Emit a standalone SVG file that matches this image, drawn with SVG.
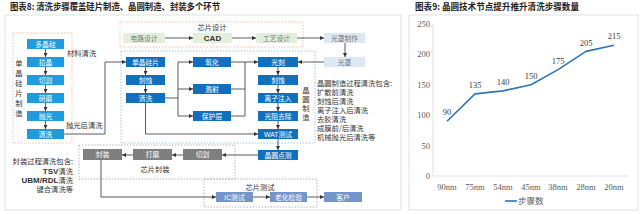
<svg xmlns="http://www.w3.org/2000/svg" width="640" height="214" viewBox="0 0 640 214">
<defs>
<marker id="ah" viewBox="0 0 6 6" refX="6" refY="3" markerWidth="4" markerHeight="4" markerUnits="userSpaceOnUse" orient="auto"><path d="M0,0 L6,3 L0,6 z" fill="#333"/></marker>
<style>
.title{font-family:"Noto Sans CJK SC","Noto Sans",sans-serif;font-size:8.6px;font-weight:bold;fill:#222}
.bt{font-family:"Noto Sans CJK SC",sans-serif;font-size:6.8px;fill:#fff;text-anchor:middle}
.lt{font-family:"Noto Sans CJK SC",sans-serif;font-size:6.8px;fill:#777;text-anchor:middle}
.ann{font-family:"Noto Sans CJK SC",sans-serif;font-size:7.3px;fill:#333}
.si{fill:#1F9CDD}
.wf{fill:#1170BE}
.gr{fill:#7F7F7F}
.ts{fill:#7395CA}
.gn{fill:#E2EFDA}
.lb{fill:#DDE8F4}
.c{stroke:#333;stroke-width:0.8;fill:none}
.ca{stroke:#333;stroke-width:0.8;fill:none;marker-end:url(#ah)}
.dor{fill:none;stroke:#F4B183;stroke-width:0.8;stroke-dasharray:1.5 1.5}
.dbl{fill:none;stroke:#8DB8E2;stroke-width:0.8;stroke-dasharray:1.5 1.5}
.dgy{fill:none;stroke:#A6A6A6;stroke-width:0.8;stroke-dasharray:1.5 1.5}
.ax{font-family:"Liberation Serif",serif;font-size:8.5px;fill:#595959}
.dl{font-family:"Liberation Serif",serif;font-size:8.5px;fill:#404040;text-anchor:middle}
</style>
</defs>
<rect width="640" height="214" fill="#fff"/>
<!-- panels -->
<rect x="5" y="15" width="396" height="195" fill="none" stroke="#D9D9D9" stroke-width="0.8"/>
<rect x="409" y="15" width="229" height="195" fill="none" stroke="#D9D9D9" stroke-width="0.8"/>
<text class="title" x="10" y="10" textLength="210" lengthAdjust="spacingAndGlyphs">图表8: 清洗步骤覆盖硅片制造、晶圆制造、封装多个环节</text>
<text class="title" x="415" y="10" textLength="164" lengthAdjust="spacingAndGlyphs">图表9: 晶圆技术节点提升推升清洗步骤数量</text>

<!-- group frames -->
<g id="frame-si"><rect class="dor" x="13" y="33" width="59" height="110"/>
<text class="ann" x="19" text-anchor="middle"><tspan x="19" y="66">单</tspan><tspan x="19" y="76">晶</tspan><tspan x="19" y="86">硅</tspan><tspan x="19" y="96">片</tspan><tspan x="19" y="106">制</tspan><tspan x="19" y="116">造</tspan></text></g>
<g id="frame-design"><rect class="dor" x="120" y="22" width="183" height="25"/><text class="ann" x="212" y="30" text-anchor="middle">芯片设计</text></g>
<g id="frame-wafer"><rect class="dbl" x="121" y="51" width="194" height="92"/>
<text class="ann" text-anchor="middle"><tspan x="306" y="93">晶</tspan><tspan x="306" y="102">圆</tspan><tspan x="306" y="111">制</tspan><tspan x="306" y="120">造</tspan></text></g>
<g id="frame-pack"><rect class="dgy" x="79" y="145" width="156" height="34"/><text class="ann" x="155" y="172" text-anchor="middle">芯片封装</text></g>
<g id="frame-test"><rect class="dgy" x="204" y="179" width="113" height="28"/><text class="ann" x="260" y="190" text-anchor="middle">芯片测试</text></g>

<!-- annotations -->
<g id="notes">
<text class="ann" x="67" y="56">材料清洗</text>
<text class="ann" x="66" y="128">抛光后清洗</text>
<text class="ann" x="317" y="86">晶圆制造过程清洗包含:</text>
<text class="ann" x="317" y="95">扩散前清洗</text>
<text class="ann" x="317" y="104">刻蚀后清洗</text>
<text class="ann" x="317" y="113">离子注入后清洗</text>
<text class="ann" x="317" y="122">去胶清洗</text>
<text class="ann" x="317" y="131">成膜前/后清洗</text>
<text class="ann" x="317" y="140">机械抛光后清洗等</text>
<text class="ann" x="73" y="164" text-anchor="end">封装过程清洗包含:</text>
<text class="ann" x="73" y="174" text-anchor="end"><tspan font-family="Liberation Sans" font-weight="bold" font-size="8">TSV</tspan>清洗</text>
<text class="ann" x="73" y="183" text-anchor="end"><tspan font-family="Liberation Sans" font-weight="bold" font-size="8">UBM/RDL</tspan>清洗</text>
<text class="ann" x="73" y="192" text-anchor="end">键合清洗等</text>
</g>

<!-- connectors -->
<g id="connectors">
<line class="ca" x1="45.5" y1="49" x2="45.5" y2="57"/>
<line class="ca" x1="45.5" y1="67" x2="45.5" y2="75"/>
<line class="ca" x1="45.5" y1="85" x2="45.5" y2="93"/>
<line class="ca" x1="45.5" y1="103" x2="45.5" y2="111"/>
<line class="ca" x1="45.5" y1="121" x2="45.5" y2="129"/>
<polyline class="ca" points="64,134 105,134 105,62 126,62"/>
<line class="ca" x1="145.5" y1="67" x2="145.5" y2="75"/>
<line class="ca" x1="145.5" y1="85" x2="145.5" y2="93"/>
<polyline class="c" points="165,98 178,98"/>
<line class="c" x1="178" y1="62" x2="178" y2="116"/>
<line class="ca" x1="178" y1="62" x2="193" y2="62"/>
<line class="ca" x1="178" y1="89" x2="193" y2="89"/>
<line class="ca" x1="178" y1="116" x2="193" y2="116"/>
<line class="c" x1="231" y1="62" x2="245" y2="62"/>
<line class="c" x1="231" y1="89" x2="245" y2="89"/>
<line class="c" x1="231" y1="116" x2="245" y2="116"/>
<line class="c" x1="245" y1="62" x2="245" y2="116"/>
<line class="ca" x1="245" y1="62" x2="258" y2="62"/>
<polyline class="ca" points="145.5,103 145.5,134 258,134"/>
<line class="ca" x1="278" y1="67" x2="278" y2="75"/>
<line class="ca" x1="278" y1="85" x2="278" y2="93"/>
<line class="ca" x1="278" y1="103" x2="278" y2="111"/>
<line class="ca" x1="278" y1="121" x2="278" y2="129"/>
<line class="ca" x1="278" y1="139" x2="278" y2="150"/>
<line class="ca" x1="258" y1="155" x2="222" y2="155"/>
<line class="ca" x1="183" y1="155" x2="172" y2="155"/>
<line class="ca" x1="133" y1="155" x2="122" y2="155"/>
<polyline class="ca" points="101,160 101,197 216,197"/>
<line class="ca" x1="253" y1="197" x2="270" y2="197"/>
<line class="ca" x1="307" y1="197" x2="324" y2="197"/>
<line class="ca" x1="165" y1="38" x2="193" y2="38"/>
<line class="ca" x1="232" y1="38" x2="256" y2="38"/>
<line class="ca" x1="297" y1="38" x2="324" y2="38"/>
<line class="ca" x1="345" y1="43" x2="345" y2="57"/>
<line class="ca" x1="324" y1="62" x2="298" y2="62"/>
</g>

<!-- silicon nodes -->
<g id="n-duojinggui"><rect class="si" x="27" y="39" width="37" height="10"/><text class="bt" x="45.5" y="46.6">多晶硅</text></g>
<g id="n-lajing"><rect class="si" x="27" y="57" width="37" height="10"/><text class="bt" x="45.5" y="64.6">拉晶</text></g>
<g id="n-qiege1"><rect class="si" x="27" y="75" width="37" height="10"/><text class="bt" x="45.5" y="82.6">切割</text></g>
<g id="n-yanmo"><rect class="si" x="27" y="93" width="37" height="10"/><text class="bt" x="45.5" y="100.6">研磨</text></g>
<g id="n-paoguang"><rect class="si" x="27" y="111" width="37" height="10"/><text class="bt" x="45.5" y="118.6">抛光</text></g>
<g id="n-qingxi1"><rect class="si" x="27" y="129" width="37" height="10"/><text class="bt" x="45.5" y="136.6">清洗</text></g>

<!-- wafer nodes -->
<g id="n-danjing"><rect class="wf" x="126" y="57" width="39" height="10"/><text class="bt" x="145.5" y="64.6">单晶硅片</text></g>
<g id="n-keshi1"><rect class="wf" x="126" y="75" width="39" height="10"/><text class="bt" x="145.5" y="82.6">刻蚀</text></g>
<g id="n-qingxi2"><rect class="wf" x="126" y="93" width="39" height="10"/><text class="bt" x="145.5" y="100.6">清洗</text></g>
<g id="n-yanghua"><rect class="wf" x="193" y="57" width="38" height="10"/><text class="bt" x="212" y="64.6">氧化</text></g>
<g id="n-jianshe"><rect class="wf" x="193" y="84" width="38" height="10"/><text class="bt" x="212" y="91.6">溅射</text></g>
<g id="n-baohu"><rect class="wf" x="193" y="111" width="38" height="10"/><text class="bt" x="212" y="118.6">保护层</text></g>
<g id="n-guangke"><rect class="wf" x="258" y="57" width="40" height="10"/><text class="bt" x="278" y="64.6">光刻</text></g>
<g id="n-keshi2"><rect class="wf" x="258" y="75" width="40" height="10"/><text class="bt" x="278" y="82.6">刻蚀</text></g>
<g id="n-lizi"><rect class="wf" x="258" y="93" width="40" height="10"/><text class="bt" x="278" y="100.6">离子注入</text></g>
<g id="n-guangzu"><rect class="wf" x="258" y="111" width="40" height="10"/><text class="bt" x="278" y="118.6">光阻去除</text></g>
<g id="n-wat"><rect class="wf" x="258" y="129" width="40" height="10"/><text class="bt" x="278" y="136.6"><tspan font-family="Liberation Sans">WAT</tspan>测试</text></g>
<g id="n-diance"><rect class="wf" x="258" y="150" width="40" height="10"/><text class="bt" x="278" y="157.6">晶圆点测</text></g>

<!-- design nodes -->
<g id="n-dianlu"><rect class="gn" x="123" y="33" width="42" height="10"/><text class="lt" x="144" y="40.6">电路设计</text></g>
<g id="n-cad"><rect class="gn" x="193" y="33" width="39" height="10"/><text x="212.5" y="41" text-anchor="middle" font-family="Liberation Sans" font-weight="bold" font-size="8" fill="#333">CAD</text></g>
<g id="n-gongyi"><rect class="gn" x="256" y="33" width="41" height="10"/><text class="lt" x="276.5" y="40.6">工艺设计</text></g>
<g id="n-guangzhaozz"><rect class="lb" x="324" y="33" width="41" height="10"/><text class="lt" x="344.5" y="40.6">光罩制作</text></g>
<g id="n-guangzhao"><rect class="lb" x="324" y="57" width="41" height="10"/><text class="lt" x="344.5" y="64.6">光罩</text></g>

<!-- packaging nodes -->
<g id="n-fengzhuang"><rect class="gr" x="83" y="149" width="39" height="11"/><text class="bt" x="102.5" y="157">封装</text></g>
<g id="n-damo"><rect class="gr" x="133" y="149" width="39" height="11"/><text class="bt" x="152.5" y="157">打磨</text></g>
<g id="n-qiege2"><rect class="gr" x="183" y="149" width="39" height="11"/><text class="bt" x="202.5" y="157">切割</text></g>

<!-- test nodes -->
<g id="n-ic"><rect class="ts" x="216" y="192" width="37" height="10"/><text class="bt" x="234.5" y="199.6"><tspan font-family="Liberation Sans">IC</tspan>测试</text></g>
<g id="n-laohua"><rect class="ts" x="270" y="192" width="37" height="10"/><text class="bt" x="288.5" y="199.6">老化检验</text></g>
<g id="n-kehu"><rect class="ts" x="324" y="192" width="38" height="10"/><text class="bt" x="343" y="199.6">客户</text></g>

<!-- chart -->
<g id="chart">
<line x1="433" y1="24" x2="433" y2="176" stroke="#D9D9D9" stroke-width="0.8"/>
<line x1="433" y1="176" x2="628" y2="176" stroke="#D9D9D9" stroke-width="0.8"/>
<g class="ax" text-anchor="end">
<text x="430" y="27">250</text><text x="430" y="57.4">200</text><text x="430" y="87.8">150</text><text x="430" y="118.2">100</text><text x="430" y="148.6">50</text><text x="430" y="179">0</text>
</g>
<g class="ax" text-anchor="middle">
<text x="447" y="190">90nm</text><text x="475" y="190">75nm</text><text x="503" y="190">54nm</text><text x="531" y="190">45nm</text><text x="558" y="190">38nm</text><text x="586" y="190">28nm</text><text x="614" y="190">20nm</text>
</g>
<polyline points="447,121.3 475,93.9 503,90.9 531,84.8 558,69.6 586,51.4 614,45.3" fill="none" stroke="#2E75B6" stroke-width="1.6" stroke-linejoin="round"/>
<text class="dl" x="447" y="115">90</text>
<text class="dl" x="475" y="88">135</text>
<text class="dl" x="503" y="85">140</text>
<text class="dl" x="531" y="79">150</text>
<text class="dl" x="558" y="64">175</text>
<text class="dl" x="586" y="46">205</text>
<text class="dl" x="614" y="39">215</text>
<line x1="505" y1="201" x2="517" y2="201" stroke="#2E75B6" stroke-width="1.6"/>
<text x="518" y="204" font-family="Noto Sans CJK SC,sans-serif" font-size="8.5" fill="#595959">步骤数</text>
</g>
</svg>
